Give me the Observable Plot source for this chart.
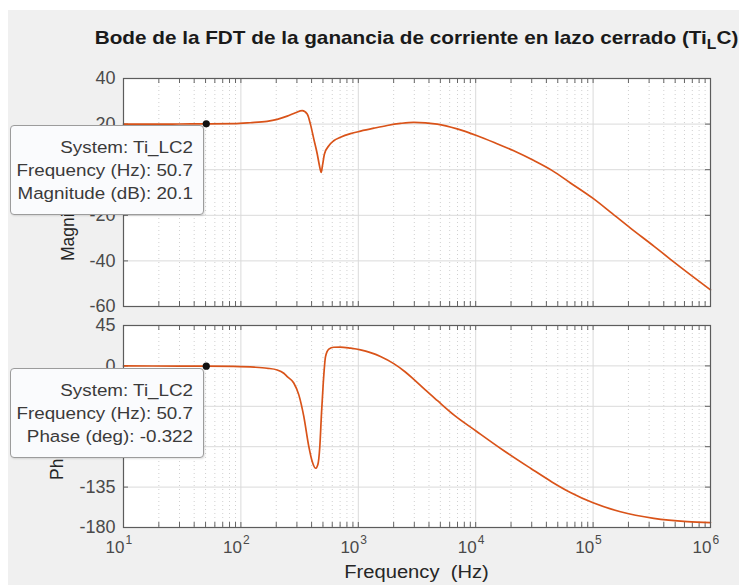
<!DOCTYPE html>
<html>
<head>
<meta charset="utf-8">
<script src="https://cdn.jsdelivr.net/npm/d3@7"></script>
<script src="https://cdn.jsdelivr.net/npm/@observablehq/plot@0.6"></script>
<style>
  body { margin: 0; background: #ffffff; }
  #fig { position: relative; width: 739px; height: 585px; overflow: hidden;
         font-family: "Liberation Sans", Arial, Helvetica, sans-serif; }
  #bg { position: absolute; left: 8px; top: 10px; right: 0; bottom: 0; background: #f0f0f0; }
  .abs { position: absolute; }
  #title { left: 96px; top: 26px; width: 641px; text-align: center; white-space: nowrap;
           font-weight: bold; font-size: 18.5px; line-height: 24px; color: #1a1a1a;
           transform: scaleX(1.12); transform-origin: center; }
  #title sub { font-size: 14px; vertical-align: -5px; line-height: 0; }
  .ylab { transform-origin: 0 0; transform: rotate(-90deg); font-size: 17.5px; line-height: 20px;
          color: #262626; white-space: nowrap; }
  #xlab { left: 123px; width: 587px; top: 561px; text-align: center; font-size: 18px; line-height: 22px;
          color: #262626; white-space: pre; transform: scaleX(1.12); transform-origin: center; }
  .tip { position: absolute; box-sizing: border-box; background: #fafbfd; border: 1px solid #9c9c9c;
         border-radius: 4px; box-shadow: 1px 1px 2px rgba(0,0,0,0.12);
         padding: 10px 10px 0 0; text-align: right; font-size: 16.8px; line-height: 23px;
         color: #3a3a3a; white-space: nowrap; }
  .tip div { transform: scaleX(1.12); transform-origin: right center; }
</style>
</head>
<body>
<div id="fig">
  <div id="bg"></div>
  <div id="title" class="abs">Bode de la FDT de la ganancia de corriente en lazo cerrado (Ti<sub>L</sub>C)</div>
  <div class="abs ylab" style="left:58px; top:261px;">Magnitude (dB)</div>
  <div class="abs ylab" style="left:47px; top:480px;">Phase (deg)</div>
  <div id="xlab" class="abs">Frequency  (Hz)</div>
</div>
<script>
// Closed-loop current gain Ti_LC2: magnitude response
const magFreq = [10, 20, 30, 50.7, 86.5, 120, 167, 204, 248, 292, 333, 367, 391, 418, 447, 467, 483, 495, 515,
  561, 618, 705, 859, 1045, 1357, 1762, 2286, 2970, 4700, 6950, 10300, 15200, 21100, 31300, 44900, 64100,
  100000, 140600, 208000, 329000, 456000, 676000, 1000000];
const magDb = [20.0, 20.0, 20.05, 20.1, 20.2, 20.6, 21.2, 22.1, 23.5, 25.0, 25.9, 24.4, 20.0, 13.4, 6.9, 1.75,
  -1.2, 1.75, 6.9, 10.5, 12.7, 14.2, 15.8, 16.9, 18.2, 19.4, 20.3, 20.8, 20.0, 17.9, 14.9, 11.4, 8.3, 4.0,
  -0.4, -5.8, -12.6, -18.6, -25.6, -33.5, -39.3, -46.1, -52.7];

// Phase response
const phFreq = [10, 30, 50.7, 86.7, 130, 167, 204, 232, 248, 282, 311, 343, 379, 405, 432, 452, 470, 486, 503,
  526, 561, 618, 700, 859, 1045, 1270, 1545, 2004, 2500, 2970, 3700, 4700, 6510, 10200, 17400, 29300, 44900,
  64100, 100000, 171000, 329000, 632000, 1000000];
const phDeg = [-0.06, -0.19, -0.322, -0.6, -1.4, -2.6, -4.5, -8.2, -11.9, -19, -32, -56, -90, -106.6, -114, -110,
  -90, -52.7, -19, 10.4, 18.6, 20.8, 21.0, 19.7, 17.8, 14.8, 10.5, 2.5, -6.5, -15, -26.5, -38.5, -54.5, -73,
  -94.5, -114, -129.5, -141, -152.5, -162.5, -169.8, -173.4, -174.5];

// Data tip readout
const tipSystem = "Ti_LC2";
const tipFreq = 50.7;
const tipMag = 20.1;
const tipPhase = -0.322;

// Axis ticks
const decades = [1e1, 1e2, 1e3, 1e4, 1e5, 1e6];
const decadeExp = ["1", "2", "3", "4", "5", "6"];
const magTicks = [-60, -40, -20, 0, 20, 40];
const phTicks = [-180, -135, -90, -45, 0, 45];
const minorFreqs = [];
for (let k = 1; k <= 5; k++) for (let m = 2; m <= 9; m++) minorFreqs.push(m * 10 ** k);
const allFreqTicks = decades.concat(minorFreqs);

const orange = "#d95319";
const fontFamily = '"Liberation Sans", Arial, Helvetica, sans-serif';

function panel({yDomain, yTicks, freq, vals, tipY, height, marginTop, marginBottom, xLabels}) {
  const frameH = height - marginTop - marginBottom;
  const frameW = 739 - 123 - 29;
  const tk = 5;
  const marks = [
    Plot.frame({fill: "white", stroke: "none"}),
    Plot.ruleX(minorFreqs, {stroke: "#c4c4c4", strokeWidth: 0.8, strokeDasharray: "1,3"}),
    Plot.ruleX(decades, {stroke: "#dadada", strokeWidth: 1}),
    Plot.ruleY(yTicks, {stroke: "#dadada", strokeWidth: 1}),
    Plot.ruleX(allFreqTicks, {stroke: "#555", strokeWidth: 0.9, insetTop: frameH - tk}),
    Plot.ruleX(allFreqTicks, {stroke: "#555", strokeWidth: 0.9, insetBottom: frameH - tk}),
    Plot.ruleY(yTicks, {stroke: "#555", strokeWidth: 0.9, insetLeft: frameW - tk}),
    Plot.ruleY(yTicks, {stroke: "#555", strokeWidth: 0.9, insetRight: frameW - tk}),
    Plot.line(freq, {x: freq, y: vals, stroke: orange, strokeWidth: 1.7, curve: "monotone-x"}),
    Plot.dot([tipFreq], {x: [tipFreq], y: [tipY], r: 3.6, fill: "#111", stroke: "none"}),
    Plot.frame({stroke: "#5c5c5c", strokeWidth: 1.2}),
    Plot.axisY({ticks: yTicks, tickSize: 0, tickPadding: 8, tickFormat: d => String(d),
                fontSize: 18, fill: "#4a4a4a", label: null})
  ];
  if (xLabels) {
    marks.push(
      Plot.text(decades, {x: d => d, frameAnchor: "bottom", text: () => "10", textAnchor: "end",
        lineAnchor: "bottom", dy: 25, dx: 1, fontSize: 17, fill: "#4a4a4a"}),
      Plot.text(decades, {x: d => d, frameAnchor: "bottom", text: (d, i) => decadeExp[i], textAnchor: "start",
        lineAnchor: "bottom", dy: 16, dx: 2, fontSize: 12, fill: "#4a4a4a"})
    );
  }
  return Plot.plot({
    width: 739, height, marginLeft: 123, marginRight: 29, marginTop, marginBottom,
    x: {type: "log", domain: [10, 1e6], axis: null},
    y: {domain: yDomain, axis: null},
    style: {background: "transparent", overflow: "visible", fontFamily},
    marks
  });
}

const fig = document.getElementById("fig");

const magPlot = panel({yDomain: [-60, 40], yTicks: magTicks, freq: magFreq, vals: magDb, tipY: tipMag,
  height: 260, marginTop: 18, marginBottom: 14, xLabels: false});
magPlot.style.position = "absolute"; magPlot.style.left = "0px"; magPlot.style.top = "60px";

const phPlot = panel({yDomain: [-180, 45], yTicks: phTicks, freq: phFreq, vals: phDeg, tipY: tipPhase,
  height: 275, marginTop: 15, marginBottom: 58, xLabels: true});
phPlot.style.position = "absolute"; phPlot.style.left = "0px"; phPlot.style.top = "310px";

const firstLabel = fig.querySelector(".ylab");
fig.insertBefore(magPlot, firstLabel);
fig.insertBefore(phPlot, firstLabel);

function dataTip(top, lines) {
  const d = document.createElement("div");
  d.className = "tip";
  d.style.left = "10px"; d.style.top = top + "px";
  d.style.width = "194px"; d.style.height = "90px";
  d.innerHTML = lines.map(s => `<div>${s}</div>`).join("");
  fig.appendChild(d);
}
dataTip(125, [`System: ${tipSystem}`, `Frequency (Hz): ${tipFreq}`, `Magnitude (dB): ${tipMag}`]);
dataTip(368, [`System: ${tipSystem}`, `Frequency (Hz): ${tipFreq}`, `Phase (deg): ${tipPhase}`]);
</script>
</body>
</html>
